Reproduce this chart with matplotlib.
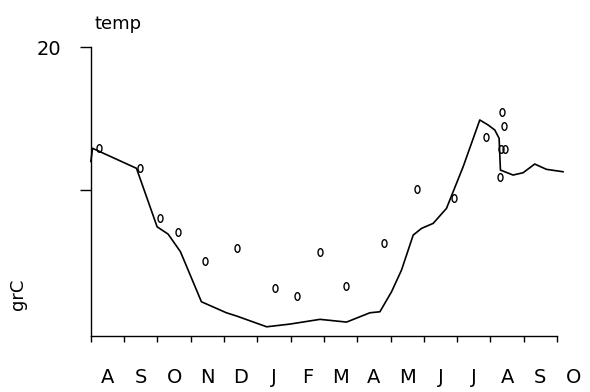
import matplotlib.pyplot as plt
import numpy as np
from matplotlib.path import Path

# months since 1 Aug (0 = Aug, 14 = Oct of next year)
line_m = [0.0, 0.05, 1.37, 1.99, 2.32, 2.69, 3.32, 4.07, 4.38, 5.28, 5.98,
          6.88, 7.68, 8.38, 8.68, 9.03, 9.33, 9.68, 9.93, 10.28, 10.68,
          11.18, 11.68, 11.93, 12.13, 12.26, 12.30, 12.68, 12.98, 13.33,
          13.68, 14.18]
line_t = [12.0, 12.92, 11.52, 7.43, 6.92, 5.69, 2.19, 1.42, 1.19, 0.44, 0.63,
          0.96, 0.77, 1.42, 1.49, 2.89, 4.41, 6.85, 7.32, 7.67, 8.72,
          11.63, 14.9, 14.55, 14.2, 13.62, 11.40, 11.05, 11.21, 11.82,
          11.45, 11.28]

obs_m = [0.24, 1.47, 2.09, 2.62, 3.42, 4.38, 5.53, 6.18, 6.88, 7.66, 8.81,
         9.78, 10.90, 11.88, 12.35, 12.40, 12.33, 12.43, 12.30]
obs_t = [12.92, 11.56, 8.02, 7.08, 5.03, 5.97, 3.17, 2.59, 5.64, 3.29, 6.31,
         10.07, 9.46, 13.69, 15.48, 14.48, 12.87, 12.87, 10.93]

months = ["A", "S", "O", "N", "D", "J", "F", "M", "A", "M", "J", "J", "A", "S", "O"]

# small upright ellipse, like a plotted "0"
th = np.linspace(0, 2 * np.pi, 40)
ell = Path(np.column_stack([0.65 * np.cos(th), np.sin(th)]), closed=True)

fig = plt.figure(figsize=(5.9, 3.92), dpi=100)
ax = fig.add_axes([0.154, 0.143, 0.824, 0.737])

ax.plot(line_m, line_t, color="black", lw=1.2, clip_on=False)
ax.plot(obs_m, obs_t, ls="none", marker=ell, ms=5.5, mfc="none", mec="black",
        mew=1.0, clip_on=False)

ax.set_xlim(0, 14.6)
ax.set_ylim(-0.2, 20)
ax.spines["top"].set_visible(False)
ax.spines["right"].set_visible(False)
ax.spines["bottom"].set_bounds(0, 14)
ax.spines["left"].set_bounds(-0.2, 20)
for s in ax.spines.values():
    s.set_linewidth(1.0)

ax.set_xticks(range(15))
ax.set_xticklabels([])
ax.set_xticks(np.arange(15) + 0.5, minor=True)
ax.set_xticklabels(months, minor=True)
ax.tick_params(axis="x", which="major", direction="out", length=4.5, width=1.0)
ax.tick_params(axis="x", which="minor", length=0, pad=23, labelsize=14)

ax.set_yticks([10, 20])
ax.set_yticklabels(["", "20"])
ax.tick_params(axis="y", direction="out", length=8, width=1.0, pad=13, labelsize=14)

fig.text(0.2, 0.94, "temp", ha="center", va="center", fontsize=13)
fig.text(0.03, 0.25, "grC", ha="center", va="center", rotation=90, fontsize=13)

fig.savefig("out.png", dpi=100)
